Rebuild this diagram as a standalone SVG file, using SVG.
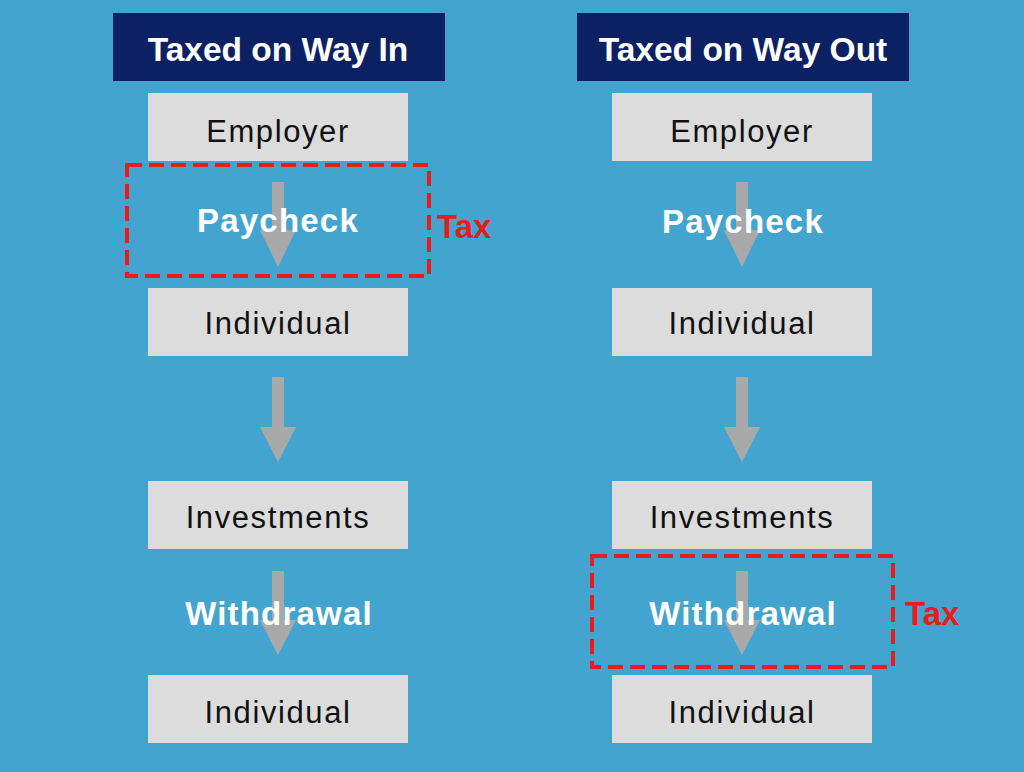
<svg xmlns="http://www.w3.org/2000/svg" width="1024" height="772" viewBox="0 0 1024 772">
<defs>
<style>
.hdr{fill:#0b2163}
.hdrt{fill:#ffffff;font-family:"Liberation Sans",Arial,sans-serif;font-weight:bold;font-size:33.5px;text-anchor:middle}
.box{fill:#dcdcdc}
.boxt{fill:#111111;font-family:"Liberation Sans",Arial,sans-serif;font-size:31px;letter-spacing:1.6px;text-anchor:middle}
.lbl{fill:#ffffff;font-family:"Liberation Sans",Arial,sans-serif;font-weight:bold;font-size:33px;letter-spacing:1.2px;text-anchor:middle}
.arrow{fill:#a9a9a9}
.tax{fill:none;stroke:#ea1b1b;stroke-width:4;stroke-dasharray:15 7}
.taxt{fill:#ea1b1b;font-family:"Liberation Sans",Arial,sans-serif;font-weight:bold;font-size:33px}
</style>
</defs>
<rect width="1024" height="772" fill="#43a5cf"/>

<g id="connectors">
<polygon class="arrow" points="272,182 284,182 284,230 296,230 278,267 260,230 272,230"/>
<polygon class="arrow" points="272,377 284,377 284,427 296,427 278,462 260,427 272,427"/>
<polygon class="arrow" points="272,571 284,571 284,620 296,620 278,655 260,620 272,620"/>
<polygon class="arrow" points="736,182 748,182 748,230 760,230 742,267 724,230 736,230"/>
<polygon class="arrow" points="736,377 748,377 748,427 760,427 742,462 724,427 736,427"/>
<polygon class="arrow" points="736,571 748,571 748,620 760,620 742,655 724,620 736,620"/>
</g>

<g id="header-left"><rect class="hdr" x="113" y="13" width="332" height="68"/><text class="hdrt" x="278" y="61">Taxed on Way In</text></g>
<g id="header-right"><rect class="hdr" x="577" y="13" width="332" height="68"/><text class="hdrt" x="743" y="61">Taxed on Way Out</text></g>

<g id="left-employer"><rect class="box" x="148" y="93" width="260" height="68"/><text class="boxt" x="278" y="142">Employer</text></g>
<g id="left-paycheck"><text class="lbl" x="278" y="232">Paycheck</text></g>
<g id="left-individual1"><rect class="box" x="148" y="288" width="260" height="68"/><text class="boxt" x="278" y="334">Individual</text></g>
<g id="left-investments"><rect class="box" x="148" y="481" width="260" height="68"/><text class="boxt" x="278" y="528">Investments</text></g>
<g id="left-withdrawal"><text class="lbl" x="279" y="625">Withdrawal</text></g>
<g id="left-individual2"><rect class="box" x="148" y="675" width="260" height="68"/><text class="boxt" x="278" y="723">Individual</text></g>

<g id="right-employer"><rect class="box" x="612" y="93" width="260" height="68"/><text class="boxt" x="742" y="142">Employer</text></g>
<g id="right-paycheck"><text class="lbl" x="743" y="233">Paycheck</text></g>
<g id="right-individual1"><rect class="box" x="612" y="288" width="260" height="68"/><text class="boxt" x="742" y="334">Individual</text></g>
<g id="right-investments"><rect class="box" x="612" y="481" width="260" height="68"/><text class="boxt" x="742" y="528">Investments</text></g>
<g id="right-withdrawal"><text class="lbl" x="743" y="625">Withdrawal</text></g>
<g id="right-individual2"><rect class="box" x="612" y="675" width="260" height="68"/><text class="boxt" x="742" y="723">Individual</text></g>

<g id="tax-left"><rect class="tax" x="127" y="165" width="302" height="111"/><text class="taxt" x="437" y="238">Tax</text></g>
<g id="tax-right"><rect class="tax" x="592" y="556" width="301" height="111"/><text class="taxt" x="905" y="625">Tax</text></g>
</svg>
